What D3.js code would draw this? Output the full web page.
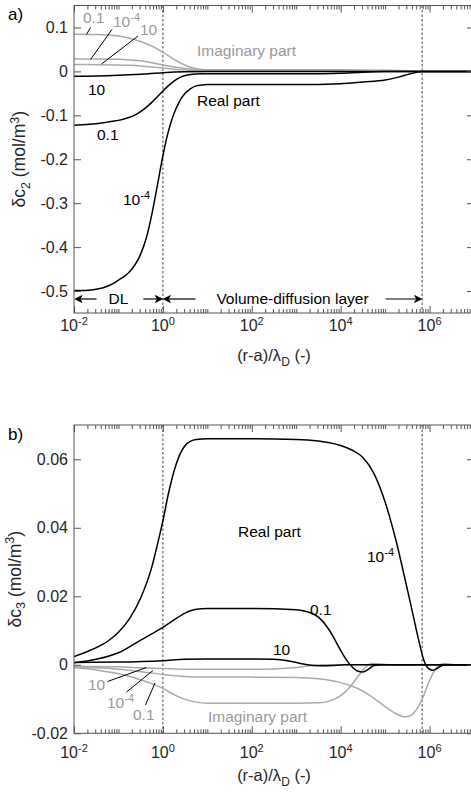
<!DOCTYPE html>
<html><head><meta charset="utf-8">
<script src="https://cdn.jsdelivr.net/npm/d3@7"></script>
<style>
body{margin:0;background:#fff}
svg{display:block}
text{font-family:"Liberation Sans",Arial,Helvetica,sans-serif}
</style>
</head><body>
<svg id="chart" width="471" height="793"></svg>
<script>
// ---------- data (x given as log10 exponent, y as concentration) ----------
const xTickExponents = [-2, 0, 2, 4, 6];
const dashedX = [1, 6.8e5];

const aYTicks = [0.1, 0, -0.1, -0.2, -0.3, -0.4, -0.5];
const bYTicks = [0.06, 0.04, 0.02, 0, -0.02];

// panel a) delta c2
const aReal_1e4 = [[-2,-0.499],[-1.75,-0.4985],[-1.5,-0.496],[-1.25,-0.489],[-1.125,-0.483],[-1,-0.475],[-0.875,-0.467],[-0.75,-0.456],[-0.625,-0.440],[-0.5,-0.416],[-0.375,-0.380],[-0.25,-0.326],[-0.125,-0.260],[0,-0.192],[0.125,-0.136],[0.25,-0.096],[0.375,-0.068],[0.5,-0.050],[0.625,-0.039],[0.75,-0.033],[0.875,-0.031],[1,-0.030],[2,-0.030],[3,-0.030],[4,-0.028],[4.5,-0.024],[5,-0.0195],[5.3,-0.013],[5.55,-0.006],[5.83,0],[7,0]];
const aReal_01  = [[-2,-0.1225],[-1.75,-0.121],[-1.5,-0.119],[-1.25,-0.1155],[-1.125,-0.1136],[-1,-0.1115],[-0.875,-0.1085],[-0.75,-0.1045],[-0.625,-0.099],[-0.5,-0.0915],[-0.375,-0.082],[-0.25,-0.0705],[-0.125,-0.0577],[0,-0.0447],[0.125,-0.0325],[0.25,-0.022],[0.375,-0.0142],[0.5,-0.0094],[0.625,-0.007],[0.75,-0.006],[0.875,-0.0056],[1,-0.0054],[3.5,-0.0052],[4,-0.004],[4.5,-0.0018],[5,-0.0004],[5.5,0],[7,0]];
const aReal_10  = [[-2,-0.011],[-1.5,-0.0105],[-1,-0.009],[-0.5,-0.0065],[0,-0.003],[0.5,-0.001],[1,-0.0004],[3,-0.0002],[5,0],[7,0]];
const aImag_01  = [[-2,0.0848],[-1.5,0.0842],[-1.25,0.083],[-1,0.0805],[-0.75,0.0755],[-0.5,0.068],[-0.25,0.0575],[0,0.0435],[0.25,0.0275],[0.5,0.014],[0.75,0.006],[1,0.0025],[1.25,0.0012],[1.5,0.0008],[2,0.0006],[4,0.0004],[5,0.0003],[5.83,0],[7,0]];
const aImag_1e4 = [[-2,0.0285],[-1.5,0.0283],[-1,0.0275],[-0.75,0.0262],[-0.5,0.024],[-0.25,0.0197],[0,0.0145],[0.25,0.0098],[0.5,0.0065],[0.75,0.0048],[1,0.004],[1.5,0.0036],[2,0.0035],[4,0.0035],[5,0.0025],[5.5,0.0012],[5.83,0],[7,0]];
const aImag_10  = [[-2,0.0155],[-1.5,0.0153],[-1,0.0147],[-0.75,0.0138],[-0.5,0.0124],[-0.25,0.0102],[0,0.0075],[0.25,0.005],[0.5,0.0032],[0.75,0.0023],[1,0.0019],[1.5,0.0016],[3,0.0012],[5,0.0006],[5.83,0],[7,0]];

// panel b) delta c3
const bReal_1e4 = [[-2,0.0024],[-1.75,0.0036],[-1.5,0.005],[-1.25,0.0068],[-1,0.0095],[-0.75,0.0135],[-0.5,0.0195],[-0.25,0.0285],[-0.125,0.035],[0,0.042],[0.125,0.05],[0.25,0.0565],[0.375,0.0612],[0.5,0.064],[0.625,0.0653],[0.75,0.0658],[1,0.066],[2,0.066],[3,0.0658],[3.5,0.0653],[3.75,0.0648],[4,0.064],[4.25,0.0627],[4.5,0.0605],[4.75,0.0558],[5,0.0475],[5.25,0.036],[5.5,0.022],[5.625,0.0148],[5.75,0.0075],[5.875,0.0012],[6,-0.0013],[6.08,-0.0016],[6.18,-0.001],[6.3,-0.0001],[6.45,0],[7,0]];
const bReal_01  = [[-2,0.0006],[-1.5,0.0016],[-1,0.0035],[-0.5,0.0072],[-0.25,0.009],[0,0.0109],[0.25,0.0131],[0.5,0.0151],[0.75,0.0162],[1,0.0164],[2,0.0164],[3,0.0161],[3.25,0.0155],[3.5,0.0139],[3.75,0.01],[4,0.0042],[4.125,0.0015],[4.25,-0.0005],[4.375,-0.0018],[4.5,-0.0021],[4.625,-0.0013],[4.75,-0.0002],[4.9,0],[7,0]];
const bReal_10  = [[-2,0.0007],[-1,0.0008],[0,0.0012],[0.5,0.0016],[1,0.0017],[2,0.0017],[2.5,0.0016],[2.8,0.0012],[3.05,0.0005],[3.25,0],[3.5,-0.0003],[3.8,-0.0002],[4.1,0],[7,0]];
const bImag_10  = [[-2,-0.0004],[-1,-0.0006],[-0.5,-0.0009],[0,-0.0011],[0.5,-0.0013],[1,-0.0013],[2,-0.0013],[2.5,-0.0012],[3,-0.0008],[3.3,-0.0003],[3.6,0],[7,0]];
const bImag_1e4 = [[-2,-0.0006],[-1.5,-0.0009],[-1,-0.0013],[-0.5,-0.002],[0,-0.0028],[0.5,-0.0034],[1,-0.0036],[2,-0.0036],[3,-0.0037],[3.5,-0.0041],[4,-0.0052],[4.25,-0.0062],[4.5,-0.0077],[4.75,-0.0098],[5,-0.0122],[5.25,-0.0143],[5.45,-0.0152],[5.6,-0.0146],[5.72,-0.0128],[5.85,-0.0095],[6,-0.0046],[6.12,-0.0015],[6.25,0.0001],[6.35,0.0004],[6.5,0.0001],[6.65,0],[7,0]];
const bImag_01  = [[-2,-0.0008],[-1.5,-0.0015],[-1,-0.0026],[-0.75,-0.0034],[-0.5,-0.0044],[-0.25,-0.0055],[0,-0.0069],[0.25,-0.0087],[0.5,-0.0101],[0.75,-0.0109],[1,-0.0112],[3,-0.0112],[3.5,-0.0111],[3.75,-0.0106],[4,-0.009],[4.2,-0.0066],[4.4,-0.0032],[4.55,-0.0008],[4.7,0.0004],[4.85,0.0003],[5,0.0001],[5.2,0],[7,0]];

// ---------- drawing ----------
const svg = d3.select("#chart");
const BLACK = "#000", GRAY = "#aaaaaa", GRAYTXT = "#999999", AXIS = "#555", TXT = "#262626";
const left = 74, right = 474;

const x = d3.scaleLog().domain([1e-2, 1e7]).range([left, right]);

function toPts(arr){ return arr.map(d => [Math.pow(10, d[0]), d[1]]); }

function addText(g, px, py, parts, opt){
  opt = opt || {};
  const t = g.append("text").attr("x", px).attr("y", py)
    .attr("font-size", opt.size || 15.5).attr("fill", opt.fill || BLACK)
    .attr("text-anchor", opt.anchor || "start");
  if (opt.rotate) t.attr("transform", `rotate(-90,${px},${py})`);
  parts.forEach(p => {
    if (typeof p === "string") { t.append("tspan").text(p); }
    else {
      const ts = t.append("tspan").text(p.t).attr("font-size", p.size || 11);
      if (p.dy) ts.attr("dy", p.dy);
    }
  });
  return t;
}

function drawPanel(cfg){
  const y = d3.scaleLinear().domain(cfg.yDomain).range([cfg.bottom, cfg.top]);
  const g = svg.append("g");
  const clipId = "clip" + cfg.id;
  svg.append("clipPath").attr("id", clipId).append("rect")
    .attr("x", left).attr("y", cfg.top).attr("width", right - left).attr("height", cfg.bottom - cfg.top);

  dashedX.forEach(v => {
    g.append("line").attr("x1", x(v)).attr("x2", x(v)).attr("y1", cfg.top).attr("y2", cfg.bottom)
      .attr("stroke", "#444").attr("stroke-width", 1).attr("stroke-dasharray", "2.5,2");
  });

  const line = d3.line().x(d => x(d[0])).y(d => y(d[1])).curve(d3.curveMonotoneX);
  const cg = g.append("g").attr("clip-path", `url(#${clipId})`);
  cfg.series.forEach(s => {
    cg.append("path").datum(toPts(s.data)).attr("d", line)
      .attr("fill", "none").attr("stroke", s.color).attr("stroke-width", 1.5)
      .attr("stroke-linejoin", "round");
  });

  const majors = xTickExponents.map(e => Math.pow(10, e));
  const minors = [];
  for (let e = -2; e < 7; e++) for (let m = 1; m <= 9; m++) {
    const v = m * Math.pow(10, e);
    if (!(m === 1 && xTickExponents.includes(e)) && v > 1e-2) minors.push(v);
  }
  const axB = g.append("g").attr("transform", `translate(0,${cfg.bottom})`);
  axB.call(d3.axisBottom(x).tickValues(majors).tickSize(-7).tickFormat(""));
  axB.append("g").call(d3.axisBottom(x).tickValues(minors).tickSize(-4).tickFormat(""));
  const axT = g.append("g").attr("transform", `translate(0,${cfg.top})`);
  axT.call(d3.axisTop(x).tickValues(majors).tickSize(-7).tickFormat(""));
  axT.append("g").call(d3.axisTop(x).tickValues(minors).tickSize(-4).tickFormat(""));

  const axL = g.append("g").attr("transform", `translate(${left},0)`)
    .call(d3.axisLeft(y).tickValues(cfg.yTicks).tickSize(-7).tickPadding(6).tickFormat(d => String(d)));
  const axR = g.append("g").attr("transform", `translate(${right},0)`)
    .call(d3.axisRight(y).tickValues(cfg.yTicks).tickSize(-7).tickFormat(""));

  [axB, axT, axL, axR].forEach(a => {
    a.selectAll(".domain").remove();
    a.selectAll("line").attr("stroke", AXIS);
  });
  axL.selectAll("text").attr("font-size", 16).attr("fill", TXT)
    .attr("font-family", '"Liberation Sans",Arial,sans-serif');

  g.append("rect").attr("x", left).attr("y", cfg.top).attr("width", right - left).attr("height", cfg.bottom - cfg.top)
    .attr("fill", "none").attr("stroke", AXIS).attr("stroke-width", 1);

  xTickExponents.forEach(e => {
    addText(g, x(Math.pow(10, e)), cfg.xLabelY, ["10", {t: String(e), size: 11, dy: -6.5}],
      {anchor: "middle", size: 16, fill: TXT});
  });

  const cx = (left + right) / 2;
  addText(g, cx, cfg.xTitleY, ["(r-a)/λ", {t: "D", size: 12, dy: 5}, {t: " (-)", size: 16.5, dy: -5}],
    {anchor: "middle", size: 16.5, fill: TXT});
  const cy = (cfg.top + cfg.bottom) / 2;
  addText(g, cfg.yTitleX, cy, ["δc", {t: cfg.sub, size: 12.5, dy: 4.5}, {t: " (mol/m", size: 17.5, dy: -4.5}, {t: "3", size: 12.5, dy: -6.5}, {t: ")", size: 17.5, dy: 6.5}],
    {anchor: "middle", size: 17.5, fill: TXT, rotate: true});

  addText(g, 8, cfg.letterY, [cfg.letter], {size: 17, fill: BLACK});

  return {g, y};
}

// ----- panel a -----
const pa = drawPanel({
  id: "a", top: 5.5, bottom: 313, yDomain: [-0.55, 0.15], yTicks: aYTicks,
  xLabelY: 331, xTitleY: 361, yTitleX: 25, sub: "2", letter: "a)", letterY: 20,
  series: [
    {data: aImag_01, color: GRAY}, {data: aImag_1e4, color: GRAY}, {data: aImag_10, color: GRAY},
    {data: aReal_10, color: BLACK}, {data: aReal_01, color: BLACK}, {data: aReal_1e4, color: BLACK}
  ]
});
{
  const g = pa.g;
  addText(g, 83, 23, ["0.1"], {fill: GRAYTXT});
  addText(g, 113, 27, ["10", {t: "-4", size: 11, dy: -6}], {fill: GRAYTXT});
  addText(g, 140, 35, ["10"], {fill: GRAYTXT});
  [[86.5,34.5,90.5,27.5],[90.5,59.5,112,29.5],[101.5,64,138,36]].forEach(l =>
    g.append("line").attr("x1", l[0]).attr("y1", l[1]).attr("x2", l[2]).attr("y2", l[3]).attr("stroke", BLACK).attr("stroke-width", 1));
  addText(g, 197, 56, ["Imaginary part"], {fill: GRAYTXT});
  addText(g, 88, 95, ["10"]);
  addText(g, 197, 106, ["Real part"]);
  addText(g, 97, 140, ["0.1"]);
  addText(g, 123, 205, ["10", {t: "-4", size: 11, dy: -6}]);

  const ay = 299;
  function arrow(x1, x2){
    const dir = x2 > x1 ? 1 : -1;
    g.append("line").attr("x1", x1).attr("x2", x2 - dir * 4).attr("y1", ay).attr("y2", ay)
      .attr("stroke", BLACK).attr("stroke-width", 1.2);
    g.append("path").attr("d", `M${x2},${ay} L${x2 - dir*7},${ay-3.5} L${x2 - dir*5},${ay} L${x2 - dir*7},${ay+3.5} Z`)
      .attr("fill", BLACK).attr("stroke", BLACK).attr("stroke-width", 0.8);
  }
  const x0 = x(1e-2), x1 = x(dashedX[0]), x2 = x(dashedX[1]);
  const dl = addText(g, (x0 + x1) / 2, 304, ["DL"], {anchor: "middle"});
  const dw = dl.node().getComputedTextLength();
  arrow((x0 + x1) / 2 - dw / 2 - 12, x0 + 1);
  arrow((x0 + x1) / 2 + dw / 2 + 15, x1 - 0.5);
  const vd = addText(g, (x1 + x2) / 2, 304, ["Volume-diffusion layer"], {anchor: "middle"});
  const vw = vd.node().getComputedTextLength();
  arrow((x1 + x2) / 2 - vw / 2 - 21, x1 + 0.5);
  arrow((x1 + x2) / 2 + vw / 2 + 17, x2 - 0.5);
}

// ----- panel b -----
const pb = drawPanel({
  id: "b", top: 425, bottom: 733.3, yDomain: [-0.02, 0.07], yTicks: bYTicks,
  xLabelY: 758, xTitleY: 781, yTitleX: 21, sub: "3", letter: "b)", letterY: 440,
  series: [
    {data: bImag_10, color: GRAY}, {data: bImag_1e4, color: GRAY}, {data: bImag_01, color: GRAY},
    {data: bReal_10, color: BLACK}, {data: bReal_01, color: BLACK}, {data: bReal_1e4, color: BLACK}
  ]
});
{
  const g = pb.g;
  addText(g, 238, 537, ["Real part"]);
  addText(g, 367, 562, ["10", {t: "-4", size: 11, dy: -6}]);
  addText(g, 310, 615, ["0.1"]);
  addText(g, 273, 655, ["10"]);
  addText(g, 208, 722, ["Imaginary part"], {fill: GRAYTXT});
  addText(g, 88, 690, ["10"], {fill: GRAYTXT});
  addText(g, 107, 708, ["10", {t: "-4", size: 11, dy: -6}], {fill: GRAYTXT});
  addText(g, 133, 720, ["0.1"], {fill: GRAYTXT});
  [[107.5,681.5,146.5,667.5],[126.5,692,153,670.5],[145.5,705,155,683]].forEach(l =>
    g.append("line").attr("x1", l[0]).attr("y1", l[1]).attr("x2", l[2]).attr("y2", l[3]).attr("stroke", BLACK).attr("stroke-width", 1));
}
</script>
</body></html>
